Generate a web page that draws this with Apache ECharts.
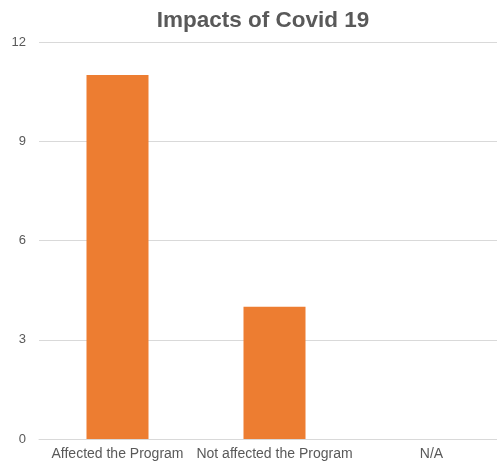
<!DOCTYPE html>
<html>
<head>
<meta charset="utf-8">
<script src="https://cdn.jsdelivr.net/npm/echarts@6/dist/echarts.min.js"></script>
<style>
  html, body { margin: 0; padding: 0; background: #fff; overflow: hidden; }
  #chart { width: 510px; height: 461px; }
</style>
</head>
<body>
<div id="chart"></div>
<script>
const chartTitle = 'Impacts of Covid 19';
const categories = ['Affected the Program', 'Not affected the Program', 'N/A'];
const counts = [11, 4, 0];
const yMin = 0, yMax = 12, yStep = 3;

const font = 'Liberation Sans, Arial, sans-serif';
const chart = echarts.init(document.getElementById('chart'));
chart.setOption({
  animation: false,
  title: {
    text: chartTitle,
    left: 258,
    textAlign: 'center',
    top: 4,
    textStyle: { fontFamily: font, fontSize: 22.5, fontWeight: 'bold', color: '#595959' }
  },
  grid: { left: 39, top: 42, right: 0, bottom: 19, containLabel: false },
  xAxis: {
    type: 'category',
    data: categories,
    axisLine: { lineStyle: { color: '#d9d9d9', width: 1 } },
    axisTick: { show: false },
    axisLabel: { interval: 0, margin: 8, fontFamily: font, fontSize: 14, color: '#595959' }
  },
  yAxis: {
    type: 'value',
    min: yMin, max: yMax, interval: yStep,
    axisLine: { show: false },
    axisTick: { show: false },
    splitLine: { lineStyle: { color: '#d9d9d9', width: 1 } },
    axisLabel: { margin: 13, fontFamily: font, fontSize: 13, color: '#595959' }
  },
  series: [{
    type: 'bar',
    data: counts,
    barWidth: 62,
    itemStyle: { color: '#ED7D31' }
  }]
});
</script>
</body>
</html>
